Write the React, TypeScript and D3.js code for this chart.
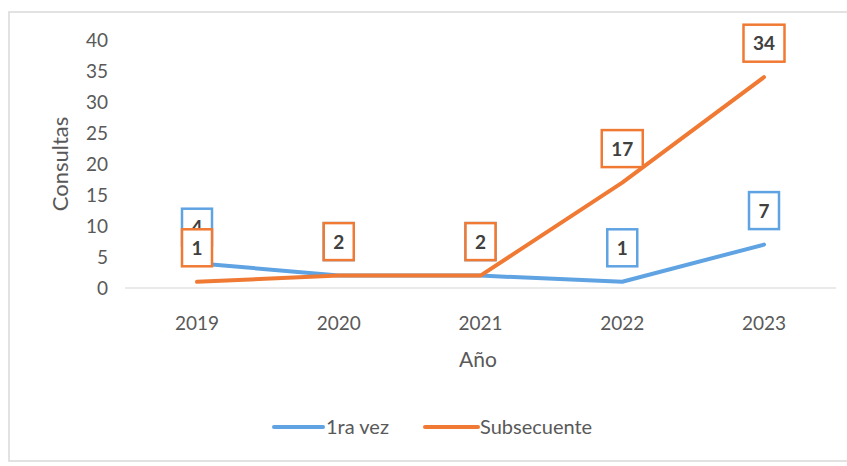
import React from "react";
import * as d3 from "d3";

const years = ["2019", "2020", "2021", "2022", "2023"];
const primeraVez = [4, 2, 2, 1, 7];
const subsecuente = [1, 2, 2, 17, 34];
const yTicks = [0, 5, 10, 15, 20, 25, 30, 35, 40];

const W = 847;
const H = 466;
const FONT = "Lato, 'Open Sans', sans-serif";
const BLUE = "#5fa3e3";
const ORANGE = "#f07a34";

export default function App() {
  const x = d3.scalePoint<string>().domain(years).range([197, 764]);
  const y = d3.scaleLinear().domain([0, 40]).range([288, 40]);
  const line = d3
    .line<number>()
    .x((_, i) => x(years[i]) as number)
    .y((d) => y(d));

  const series = [
    { name: "1ra vez", values: primeraVez, color: BLUE },
    { name: "Subsecuente", values: subsecuente, color: ORANGE },
  ];

  const labelBox = (v: number, i: number, color: string, key: string, dy: number) => {
    const cx = x(years[i]) as number;
    const cy = y(v) - 34 - dy;
    const txt = String(v);
    const w = txt.length > 1 ? 41 : 30;
    const h = 37;
    return (
      <g key={key}>
        <rect x={cx - w / 2} y={cy - h / 2} width={w} height={h} fill="#fff" stroke={color} strokeWidth={2.5} />
        <text x={cx} y={cy + 7} textAnchor="middle" fontFamily={FONT} fontWeight="bold" fontSize={19} fill="#404040">
          {txt}
        </text>
      </g>
    );
  };

  return (
    <svg width={W} height={H} style={{ position: "absolute", left: 0, top: 0, background: "#fff" }}>
      <rect x={9} y={12} width={W + 10} height={449} fill="#fff" stroke="#d9d9d9" strokeWidth={1.5} />
      {/* baseline */}
      <line x1={125} x2={836} y1={y(0)} y2={y(0)} stroke="#e3e3e3" strokeWidth={1.5} />
      {/* y ticks */}
      {yTicks.map((t) => (
        <text key={t} x={108} y={y(t) + 7} textAnchor="end" fontFamily={FONT} fontSize={19} fill="#595959">
          {t}
        </text>
      ))}
      {/* x ticks */}
      {years.map((yr) => (
        <text key={yr} x={x(yr) as number} y={330} textAnchor="middle" fontFamily={FONT} fontSize={19} fill="#595959">
          {yr}
        </text>
      ))}
      <text
        transform={`translate(68,164) rotate(-90)`}
        textAnchor="middle"
        fontFamily={FONT}
        fontSize={22}
        fill="#595959"
      >
        Consultas
      </text>
      <text x={478} y={367} textAnchor="middle" fontFamily={FONT} fontSize={21} fill="#595959">
        Año
      </text>
      {series.map((s) => (
        <path key={s.name} d={line(s.values) as string} fill="none" stroke={s.color} strokeWidth={4} strokeLinejoin="round" strokeLinecap="round" />
      ))}
      {series.map((s, si) => s.values.map((v, i) => labelBox(v, i, s.color, s.name + i, si === 0 && i === 0 ? 2 : 0)))}
      {/* legend */}
      <line x1={274} x2={323} y1={427} y2={427} stroke={BLUE} strokeWidth={4} strokeLinecap="round" />
      <text x={326} y={434} fontFamily={FONT} fontSize={20} fill="#595959">1ra vez</text>
      <line x1={425} x2={478} y1={427} y2={427} stroke={ORANGE} strokeWidth={4} strokeLinecap="round" />
      <text x={480} y={434} fontFamily={FONT} fontSize={20} fill="#595959">Subsecuente</text>
    </svg>
  );
}
